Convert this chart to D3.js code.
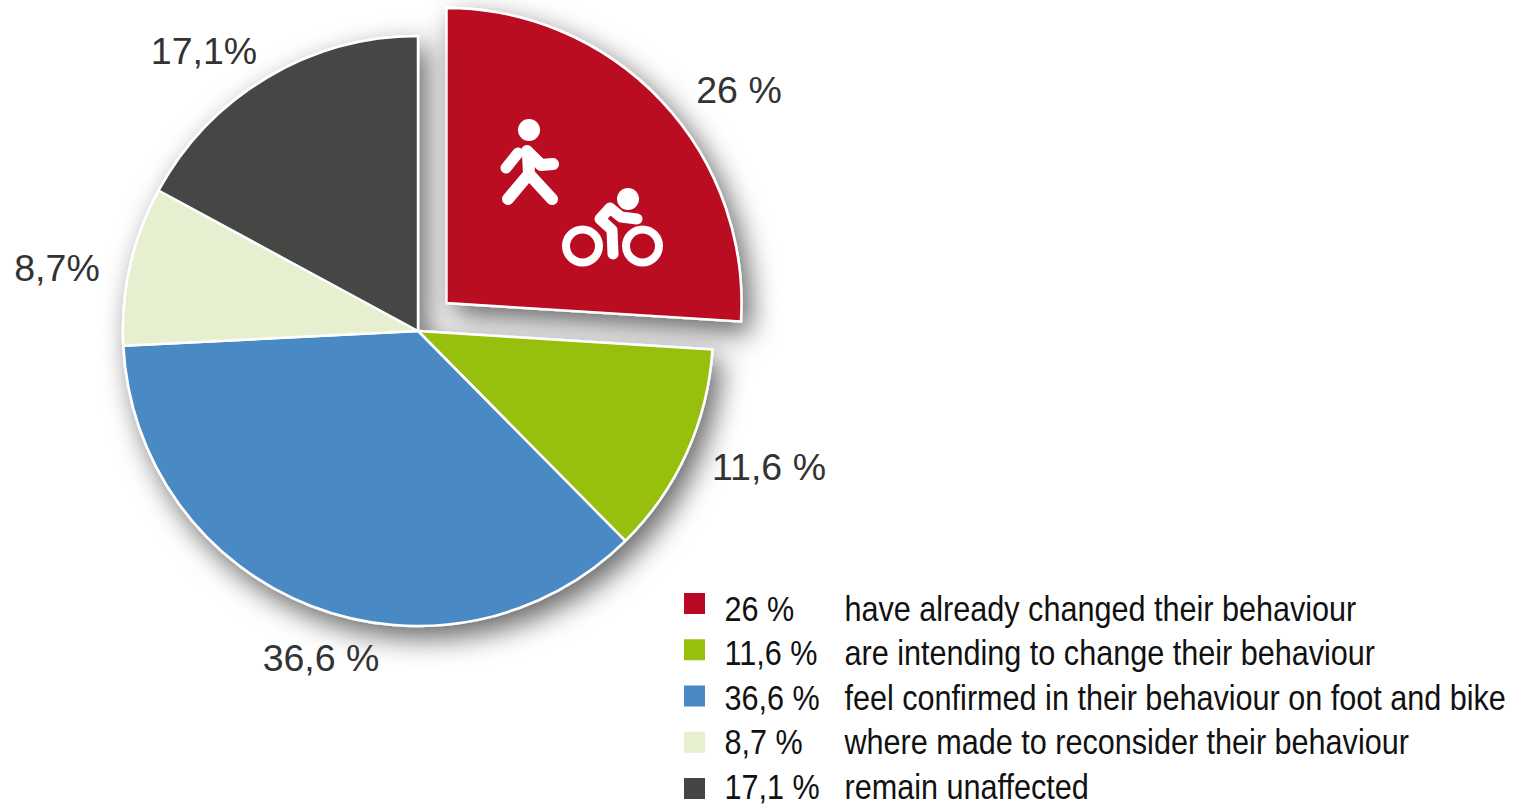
<!DOCTYPE html>
<html>
<head>
<meta charset="utf-8">
<script src="https://cdn.jsdelivr.net/npm/d3@7"></script>
<style>
    html, body { margin: 0; padding: 0; background: #fff; overflow: hidden; }
    svg { display: block; }
    .pie-label { font-family: "Liberation Sans", Arial, sans-serif; font-size: 37.5px; fill: #333; text-anchor: middle; }
    .legend-text { font-family: "Liberation Sans", Arial, sans-serif; font-size: 36px; fill: #111; }
</style>
</head>
<body>
<div id="chart"></div>
<script>
// chart values
const shares = [26, 11.6, 36.6, 8.7, 17.1];
const shareLabels = ["26 %", "11,6 %", "36,6 %", "8,7%", "17,1%"];
const legendShares = ["26 %", "11,6 %", "36,6 %", "8,7 %", "17,1 %"];
const descriptions = [
    "have already changed their behaviour",
    "are intending to change their behaviour",
    "feel confirmed in their behaviour on foot and bike",
    "where made to reconsider their behaviour",
    "remain unaffected"
];
const colors = ["#ba0723", "#97bf0d", "#4a89c4", "#e6efcf", "#454644"];

const width = 1518, height = 804;
const cx = 418, cy = 331, radius = 295;
// red slice is pulled out of the pie
const explode = [28.5, -28];
// label centres, placed by hand like in the original
const labelPos = [[739, 103], [769, 480], [321, 671], [57, 281], [204, 64]];
// the legend font is a narrow one, Liberation Sans squeezed to fit
const narrow = 0.85;

const svg = d3.select("#chart").append("svg")
    .attr("width", width)
    .attr("height", height);

const defs = svg.append("defs");
const shadow = defs.append("filter")
    .attr("id", "shadow")
    .attr("x", "-20%").attr("y", "-20%")
    .attr("width", "140%").attr("height", "140%");
shadow.append("feDropShadow")
    .attr("dx", 8).attr("dy", 11)
    .attr("stdDeviation", 14)
    .attr("flood-color", "#000")
    .attr("flood-opacity", 0.6);

const pie = d3.pie().sort(null).value(d => d);
const arc = d3.arc().innerRadius(0).outerRadius(radius);
const slices = pie(shares);

const pieGroup = svg.append("g").attr("transform", "translate(" + cx + "," + cy + ")");

// red slice goes first so the main pie covers its shadow
pieGroup.append("path")
    .datum(slices[0])
    .attr("transform", "translate(" + explode + ")")
    .attr("filter", "url(#shadow)")
    .attr("d", arc)
    .attr("fill", colors[0])
    .attr("stroke", "#fff")
    .attr("stroke-width", 2.5);

pieGroup.append("g")
    .attr("filter", "url(#shadow)")
    .selectAll("path")
    .data(slices.slice(1))
    .join("path")
    .attr("d", arc)
    .attr("fill", d => colors[d.index])
    .attr("stroke", "#fff")
    .attr("stroke-width", 2.5)
    .attr("stroke-linejoin", "round");

// pictograms on the red slice
const icons = svg.append("g")
    .attr("fill", "none")
    .attr("stroke", "#fff")
    .attr("stroke-linecap", "round")
    .attr("stroke-linejoin", "round");

// walker
icons.append("circle").attr("cx", 529).attr("cy", 130).attr("r", 11).attr("fill", "#fff").attr("stroke", "none");
icons.append("path").attr("stroke-width", 11).attr("d", "M518,153L506,168");
icons.append("path").attr("stroke-width", 12).attr("d", "M527,151L541,165L553,164");
icons.append("path").attr("stroke-width", 12).attr("d", "M528,155L529,174M508,199L529,174L552,199");

// cyclist
icons.append("circle").attr("cx", 628).attr("cy", 199).attr("r", 11).attr("fill", "#fff").attr("stroke", "none");
icons.append("circle").attr("cx", 582.5).attr("cy", 246).attr("r", 16.5).attr("stroke-width", 8);
icons.append("circle").attr("cx", 642.5).attr("cy", 246).attr("r", 16.5).attr("stroke-width", 8);
icons.append("path").attr("stroke-width", 11).attr("d", "M613,254L612,230L600,219L610,208L621,217L637,219");

// white box of the legend sits over the pie shadow
svg.append("rect")
    .attr("x", 673).attr("y", 558)
    .attr("width", width - 673).attr("height", height - 558)
    .attr("fill", "#fff");

svg.append("g")
    .selectAll("text")
    .data(shareLabels)
    .join("text")
    .attr("class", "pie-label")
    .attr("x", (d, i) => labelPos[i][0])
    .attr("y", (d, i) => labelPos[i][1])
    .text(d => d);

// legend
const rows = d3.scaleLinear().domain([0, 4]).range([621, 798.5]);
const boxes = d3.scaleLinear().domain([0, 4]).range([593, 778]);

const legend = svg.append("g");
legend.selectAll("rect")
    .data(colors)
    .join("rect")
    .attr("x", 684)
    .attr("y", (d, i) => boxes(i))
    .attr("width", 21)
    .attr("height", 21)
    .attr("fill", d => d);

legend.selectAll(".legend-share")
    .data(legendShares)
    .join("text")
    .attr("class", "legend-text legend-share")
    .attr("transform", (d, i) => "translate(724.5," + rows(i) + ") scale(" + narrow + ",1)")
    .text(d => d);

legend.selectAll(".legend-desc")
    .data(descriptions)
    .join("text")
    .attr("class", "legend-text legend-desc")
    .attr("transform", (d, i) => "translate(844.5," + rows(i) + ") scale(" + narrow + ",1)")
    .text(d => d);
</script>
</body>
</html>
